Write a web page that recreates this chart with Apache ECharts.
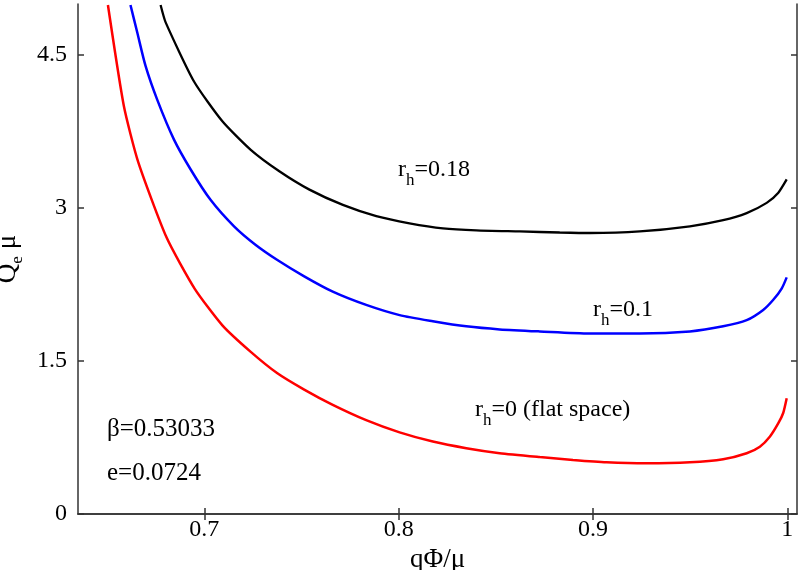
<!DOCTYPE html>
<html><head><meta charset="utf-8">
<script src="https://cdn.jsdelivr.net/npm/echarts@6/dist/echarts.min.js"></script>
<style>html,body{margin:0;padding:0;background:#fff}#c{width:802px;height:570px}</style>
</head><body><div id="c"></div>
<script>
// Data
const xTicks = [0.7, 0.8, 0.9, 1.0];
const yTicks = [0, 1.5, 3, 4.5];

const xFlat = [0.6504,0.6586,0.6660,0.6806,0.6950,0.7093,0.7239,0.7376,0.7514,0.7661,0.7833,0.8005,0.8176,0.8348,0.8520,0.8726,0.8897,0.9070,0.9276,0.9499,0.9670,0.9791,0.9859,0.9911,0.9954,0.9979,0.9997];
const yFlat = [4.99,4.00,3.45,2.71,2.21,1.85,1.59,1.38,1.22,1.07,0.92,0.80,0.71,0.645,0.596,0.558,0.53,0.507,0.497,0.507,0.537,0.596,0.66,0.76,0.89,0.99,1.135];

const xR01 = [0.6620,0.6655,0.6698,0.6758,0.6844,0.6929,0.7032,0.7153,0.7263,0.7376,0.7514,0.7661,0.7833,0.8005,0.8176,0.8348,0.8520,0.8726,0.8984,0.9241,0.9499,0.9670,0.9791,0.9876,0.9928,0.9971,0.9997];
const yR01 = [4.99,4.72,4.39,4.06,3.67,3.38,3.08,2.82,2.64,2.49,2.33,2.18,2.05,1.95,1.89,1.84,1.81,1.79,1.77,1.77,1.79,1.84,1.90,2.00,2.10,2.21,2.32];

const xR018 = [0.6775,0.6801,0.6947,0.7093,0.7239,0.7386,0.7541,0.7713,0.7885,0.8056,0.8228,0.8400,0.8623,0.8829,0.8984,0.9241,0.9499,0.9670,0.9791,0.9894,0.9954,0.9997];
const yR018 = [4.99,4.82,4.24,3.85,3.57,3.36,3.18,3.03,2.92,2.85,2.80,2.78,2.77,2.76,2.755,2.77,2.82,2.88,2.95,3.05,3.15,3.28];

function pairs(xs, ys){ return xs.map((x,i)=>[x, ys[i]]); }

const SERIF = 'Liberation Serif';
const axisLineStyle = {color:'#333', width:1.5};

const chart = echarts.init(document.getElementById('c'), null, {renderer:'canvas'});
chart.setOption({
  animation:false,
  backgroundColor:'#fff',
  grid:{left:78, right:5, top:4, bottom:56, containLabel:false, outerBoundsMode:'none'},
  xAxis:[{
    type:'value', min:0.635, max:1.005, position:'bottom',
    axisLine:{show:true, lineStyle:axisLineStyle},
    axisTick:{show:true, inside:true, length:6, lineStyle:axisLineStyle, customValues:xTicks},
    axisLabel:{show:true, customValues:xTicks, margin:4, color:'#000', fontFamily:SERIF, fontSize:24,
      formatter:v=>String(Math.round(v*10)/10)},
    splitLine:{show:false},
    name:'qΦ/μ', nameLocation:'middle', nameGap:22,
    nameTextStyle:{fontFamily:SERIF, fontSize:27, color:'#000'}
  },{
    type:'value', min:0.635, max:1.005, position:'top',
    axisLine:{show:true, lineStyle:axisLineStyle},
    axisTick:{show:true, inside:true, length:6, lineStyle:axisLineStyle, customValues:xTicks},
    axisLabel:{show:false}, splitLine:{show:false}
  }],
  yAxis:[{
    type:'value', min:0, max:5, position:'left',
    axisLine:{show:true, lineStyle:axisLineStyle},
    axisTick:{show:true, inside:true, length:6, lineStyle:axisLineStyle, customValues:yTicks},
    axisLabel:{show:true, customValues:yTicks, margin:11, color:'#000', fontFamily:SERIF, fontSize:24},
    splitLine:{show:false},
    name:'{a|Q}{s|e}{a| μ}', nameLocation:'middle', nameRotate:90, nameGap:52,
    nameTextStyle:{rich:{
      a:{fontFamily:SERIF, fontSize:27, color:'#000'},
      s:{fontFamily:SERIF, fontSize:17, color:'#000', padding:[20,0,0,0]}
    }}
  },{
    type:'value', min:0, max:5, position:'right',
    axisLine:{show:true, lineStyle:axisLineStyle},
    axisTick:{show:true, inside:true, length:6, lineStyle:axisLineStyle, customValues:yTicks},
    axisLabel:{show:false}, splitLine:{show:false}
  }],
  series:[
    {type:'line', name:'rh=0', data:pairs(xFlat,yFlat), showSymbol:false, symbol:'none', clip:true,
     smooth:0.2, lineStyle:{color:'#ff0000', width:2.5}},
    {type:'line', name:'rh=0.1', data:pairs(xR01,yR01), showSymbol:false, symbol:'none', clip:true,
     smooth:0.25, lineStyle:{color:'#0000ff', width:2.5}},
    {type:'line', name:'rh=0.18', data:pairs(xR018,yR018), showSymbol:false, symbol:'none', clip:true,
     smooth:0.2, lineStyle:{color:'#000000', width:2.3}}
  ],
  graphic:[
    {type:'text', x:107, y:429.5, style:{text:'β=0.53033', font:'25px "Liberation Serif"', fill:'#000', textVerticalAlign:'middle'}},
    {type:'text', x:107, y:473, style:{text:'e=0.0724', font:'25px "Liberation Serif"', fill:'#000', textVerticalAlign:'middle'}},
    {type:'text', x:398, y:170, style:{text:'{a|r}{s|h}{a|=0.18}', textVerticalAlign:'middle',
      rich:{a:{fontFamily:SERIF, fontSize:24, fill:'#000'}, s:{fontFamily:SERIF, fontSize:17, fill:'#000', padding:[22,0,0,0]}}}},
    {type:'text', x:593, y:309.5, style:{text:'{a|r}{s|h}{a|=0.1}', textVerticalAlign:'middle',
      rich:{a:{fontFamily:SERIF, fontSize:24, fill:'#000'}, s:{fontFamily:SERIF, fontSize:17, fill:'#000', padding:[22,0,0,0]}}}},
    {type:'text', x:475, y:409.5, style:{text:'{a|r}{s|h}{a|=0 (flat space)}', textVerticalAlign:'middle',
      rich:{a:{fontFamily:SERIF, fontSize:24, fill:'#000'}, s:{fontFamily:SERIF, fontSize:17, fill:'#000', padding:[22,0,0,0]}}}}
  ]
});
</script>
</body></html>
